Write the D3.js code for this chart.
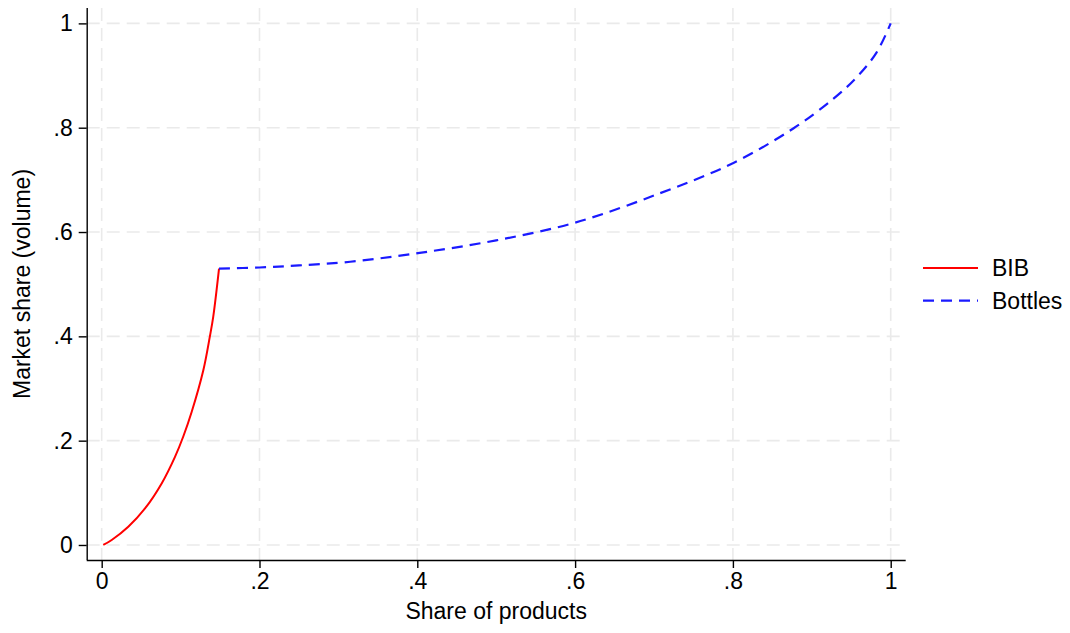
<!DOCTYPE html>
<html>
<head>
<meta charset="utf-8">
<script src="https://cdn.jsdelivr.net/npm/d3@7"></script>
<style>
  html, body { margin: 0; padding: 0; background: #fff; }
  svg { display: block; font-family: "Liberation Sans", Arial, sans-serif; }
</style>
</head>
<body>
<svg id="chart" width="1070" height="633"></svg>
<script>
// Cumulative market share (volume) against cumulative share of products
const bibShare    = [0.002, 0.0127, 0.0337, 0.0549, 0.076, 0.0929, 0.1034, 0.114, 0.1288, 0.137, 0.1414, 0.1487];
const bibVolume   = [0.000, 0.0096, 0.035, 0.070, 0.118, 0.169, 0.208, 0.255, 0.335, 0.399, 0.438, 0.530];

const bottlesShare  = [0.1487, 0.2, 0.25, 0.315, 0.403, 0.5, 0.6, 0.707, 0.8, 0.877, 0.927, 0.957, 0.982, 1.0];
const bottlesVolume = [0.530, 0.532, 0.536, 0.543, 0.560, 0.584, 0.618, 0.674, 0.732, 0.799, 0.855, 0.897, 0.944, 1.0];

const xTicks = [0, 0.2, 0.4, 0.6, 0.8, 1];
const yTicks = [0, 0.2, 0.4, 0.6, 0.8, 1];
const seriesNames = ["BIB", "Bottles"];

const fmt = v => v === 0 ? "0" : v === 1 ? "1" : String(v).replace(/^0/, "");

const svg = d3.select("#chart");
const plotLeft = 86.7, plotRight = 905.7, plotTop = 8, plotBottom = 560;
const fontSize = "23px";

const x = d3.scaleLinear().domain([-0.019, 1.019]).range([plotLeft, plotRight]);
const y = d3.scaleLinear().domain([-0.0288, 1.0295]).range([plotBottom, plotTop]);

// grid
const grid = svg.append("g")
  .attr("stroke", "#eaeaea").attr("stroke-width", 1.6).attr("stroke-dasharray", "13,7");
grid.selectAll(".gx").data(xTicks).join("line")
  .attr("x1", d => x(d)).attr("x2", d => x(d))
  .attr("y1", plotTop).attr("y2", plotBottom);
grid.selectAll(".gy").data(yTicks).join("line")
  .attr("x1", plotLeft).attr("x2", plotRight)
  .attr("y1", d => y(d)).attr("y2", d => y(d));

// axes
const xAxis = d3.axisBottom(x).tickValues(xTicks).tickFormat(fmt).tickSize(8).tickPadding(5);
const yAxis = d3.axisLeft(y).tickValues(yTicks).tickFormat(fmt).tickSize(8).tickPadding(6);

const gx = svg.append("g").attr("transform", `translate(0,${plotBottom})`).call(xAxis);
const gy = svg.append("g").attr("transform", `translate(${plotLeft},0)`).call(yAxis);
[gx, gy].forEach(g => {
  g.select(".domain").attr("stroke", "#000").attr("stroke-width", 1.4);
  g.selectAll(".tick line").attr("stroke", "#000").attr("stroke-width", 1.4);
  g.selectAll(".tick text").attr("fill", "#000").style("font-size", fontSize)
    .style("font-family", "'Liberation Sans', Arial, sans-serif");
});
gx.select(".domain").attr("d", `M${plotLeft},0.5H${plotRight}`);
gy.select(".domain").attr("d", `M0.5,${plotTop}V${plotBottom}`);

// axis titles
svg.append("text").attr("x", (x(0) + x(1)) / 2).attr("y", 619)
  .attr("text-anchor", "middle").style("font-size", fontSize).text("Share of products");
svg.append("text").attr("transform", `translate(30,${(plotTop + plotBottom) / 2}) rotate(-90)`)
  .attr("text-anchor", "middle").style("font-size", fontSize).text("Market share (volume)");

// curves
const line = d3.line().x(d => x(d[0])).y(d => y(d[1])).curve(d3.curveCatmullRom.alpha(0.5));
const bib = d3.zip(bibShare, bibVolume);
const bottles = d3.zip(bottlesShare, bottlesVolume);

svg.append("path").datum(bib).attr("d", line)
  .attr("fill", "none").attr("stroke", "#ff0000").attr("stroke-width", 2);
svg.append("path").datum(bottles).attr("d", line)
  .attr("fill", "none").attr("stroke", "#1a1aff").attr("stroke-width", 2.2)
  .attr("stroke-dasharray", "11,7");

// legend
const legend = svg.append("g");
const styles = [
  { color: "#ff0000", dash: null },
  { color: "#1a1aff", dash: "11,7" }
];
seriesNames.forEach((name, i) => {
  const ly = 268 + i * 32.7;
  legend.append("line").attr("x1", 923).attr("x2", 978).attr("y1", ly).attr("y2", ly)
    .attr("stroke", styles[i].color).attr("stroke-width", 2.2)
    .attr("stroke-dasharray", styles[i].dash);
  legend.append("text").attr("x", 992).attr("y", ly + 8)
    .style("font-size", fontSize).text(name);
});
</script>
</body>
</html>
